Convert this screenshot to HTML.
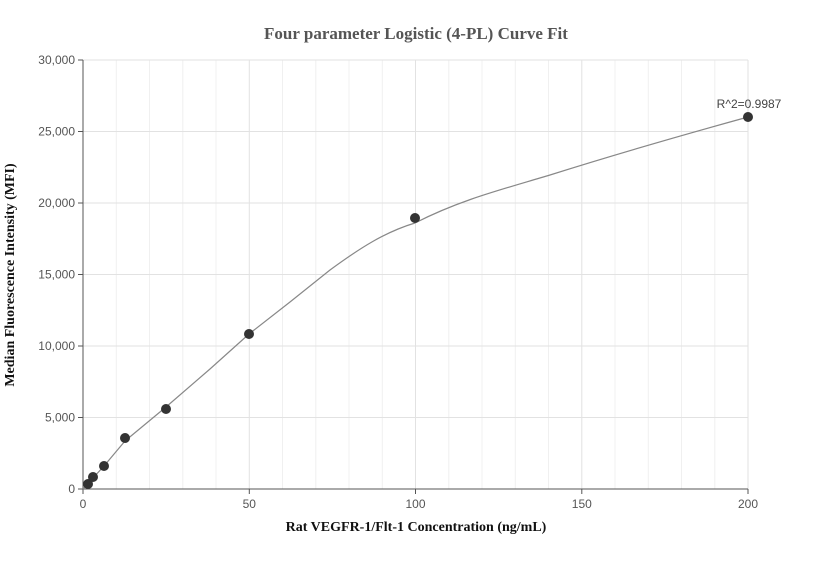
<!DOCTYPE html>
<html><head><meta charset="utf-8"><style>body{margin:0;background:#fff}svg text{font-family:"Liberation Sans",sans-serif}</style></head><body>
<svg width="832" height="560" xmlns="http://www.w3.org/2000/svg">
<rect width="832" height="560" fill="#fff"/>
<g stroke="#f0f0f0" stroke-width="1">
<line x1="116.3" y1="60" x2="116.3" y2="489"/><line x1="149.5" y1="60" x2="149.5" y2="489"/><line x1="182.8" y1="60" x2="182.8" y2="489"/><line x1="216" y1="60" x2="216" y2="489"/>
<line x1="282.5" y1="60" x2="282.5" y2="489"/><line x1="315.8" y1="60" x2="315.8" y2="489"/><line x1="349" y1="60" x2="349" y2="489"/><line x1="382.3" y1="60" x2="382.3" y2="489"/>
<line x1="448.8" y1="60" x2="448.8" y2="489"/><line x1="482" y1="60" x2="482" y2="489"/><line x1="515.3" y1="60" x2="515.3" y2="489"/><line x1="548.5" y1="60" x2="548.5" y2="489"/>
<line x1="615" y1="60" x2="615" y2="489"/><line x1="648.3" y1="60" x2="648.3" y2="489"/><line x1="681.5" y1="60" x2="681.5" y2="489"/><line x1="714.8" y1="60" x2="714.8" y2="489"/>
</g>
<g stroke="#e2e2e2" stroke-width="1">
<line x1="249.3" y1="60" x2="249.3" y2="489"/><line x1="415.5" y1="60" x2="415.5" y2="489"/><line x1="581.8" y1="60" x2="581.8" y2="489"/><line x1="748" y1="60" x2="748" y2="489"/>
<line x1="83" y1="60" x2="748" y2="60"/><line x1="83" y1="131.5" x2="748" y2="131.5"/><line x1="83" y1="203" x2="748" y2="203"/><line x1="83" y1="274.5" x2="748" y2="274.5"/><line x1="83" y1="346" x2="748" y2="346"/><line x1="83" y1="417.5" x2="748" y2="417.5"/>
</g>
<g stroke="#555" stroke-width="1">
<line x1="83" y1="60" x2="83" y2="489"/><line x1="83" y1="489" x2="748" y2="489"/>
<line x1="78" y1="60" x2="83" y2="60"/><line x1="78" y1="131.5" x2="83" y2="131.5"/><line x1="78" y1="203" x2="83" y2="203"/><line x1="78" y1="274.5" x2="83" y2="274.5"/><line x1="78" y1="346" x2="83" y2="346"/><line x1="78" y1="417.5" x2="83" y2="417.5"/><line x1="78" y1="489" x2="83" y2="489"/>
<line x1="83" y1="489" x2="83" y2="494"/><line x1="249.3" y1="489" x2="249.3" y2="494"/><line x1="415.5" y1="489" x2="415.5" y2="494"/><line x1="581.8" y1="489" x2="581.8" y2="494"/><line x1="748" y1="489" x2="748" y2="494"/>
</g>
<g font-size="12" fill="#555" text-anchor="end">
<text x="75" y="64">30,000</text><text x="75" y="135.5">25,000</text><text x="75" y="207">20,000</text><text x="75" y="278.5">15,000</text><text x="75" y="350">10,000</text><text x="75" y="421.5">5,000</text><text x="75" y="493">0</text>
</g>
<g font-size="12" fill="#555" text-anchor="middle">
<text x="83" y="508">0</text><text x="249.3" y="508">50</text><text x="415.5" y="508">100</text><text x="581.8" y="508">150</text><text x="748" y="508">200</text>
</g>
<path d="M83,489 L88,484 L93,478 L104,466 L125,441 L166,407 L210,369 L249,334 L290,302 L330,270 C360,248 385,232 415,223 C460,200 500,190 550,175 C620,153 690,133 748,117" fill="none" stroke="#888" stroke-width="1.2" stroke-linejoin="round"/>
<g fill="#333">
<circle cx="88" cy="484" r="5"/><circle cx="93" cy="477" r="5"/><circle cx="104" cy="466" r="5"/><circle cx="125" cy="438" r="5"/><circle cx="166" cy="409" r="5"/><circle cx="249" cy="334" r="5"/><circle cx="415" cy="218" r="5"/><circle cx="748" cy="117" r="5"/>
</g>
<text x="749" y="108" font-size="12" fill="#444" text-anchor="middle">R^2=0.9987</text>
<text x="416" y="39" font-size="17" font-weight="bold" fill="#555" text-anchor="middle" style="font-family:'Liberation Serif',serif">Four parameter Logistic (4-PL) Curve Fit</text>
<text x="416" y="531" font-size="14" font-weight="bold" fill="#111" text-anchor="middle" style="font-family:'Liberation Serif',serif">Rat VEGFR-1/Flt-1 Concentration (ng/mL)</text>
<text transform="translate(14,275) rotate(-90)" font-size="14" font-weight="bold" fill="#111" text-anchor="middle" style="font-family:'Liberation Serif',serif">Median Fluorescence Intensity (MFI)</text>
</svg>
</body></html>
